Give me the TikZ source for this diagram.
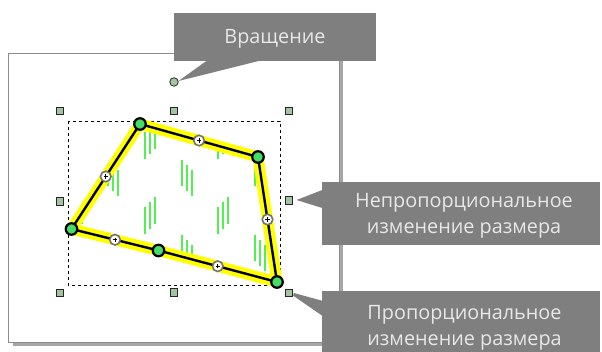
\documentclass[tikz,border=0pt]{standalone}
\usepackage{fontspec}
\setmainfont{Open Sans}
\usetikzlibrary{calc}
\definecolor{boxgray}{HTML}{7F7F7F}
\definecolor{txtgray}{HTML}{E8E8E8}
\definecolor{frameline}{HTML}{8C8C8C}
\definecolor{shadowgray}{HTML}{A6A6A6}
\definecolor{handlefill}{HTML}{A3C4A3}
\definecolor{vertfill}{HTML}{44DD66}
\definecolor{hatchgreen}{HTML}{55EE55}
\definecolor{hlyellow}{HTML}{FFFF00}
\begin{document}
\begin{tikzpicture}[x=1pt,y=-1pt,
  handlebox/.style={draw=black!85, fill=handlefill, line width=0.8pt, minimum size=7.5pt, inner sep=0pt, rectangle},
  rotdot/.style={draw=black!85, fill=handlefill, line width=0.8pt, minimum size=8.5pt, inner sep=0pt, circle},
  vertmark/.style={draw=black, fill=vertfill, line width=2.2pt, minimum size=11.5pt, inner sep=0pt, circle},
  midmark/.style={draw=black!55, fill=white, line width=1.6pt, minimum size=10.5pt, inner sep=0pt, circle,
     path picture={\draw[black, line width=0.8pt] (path picture bounding box.center) +(-2.2,0) -- +(2.2,0) +(0,-2.2) -- +(0,2.2);}},
  calloutbox/.style={fill=boxgray, inner sep=0pt, rectangle},
  pointer/.style={fill=boxgray},
  callouttext/.style={anchor=base, text=txtgray, inner sep=0pt, font=\fontsize{19.8}{24}\selectfont},
  hatchline/.style={draw=hatchgreen, line width=1.1pt},
  selbox/.style={draw=black, line width=0.8pt, dash pattern=on 3pt off 3pt},
]
\useasboundingbox (0,0) rectangle (602,352);
\fill[white] (0,0) rectangle (602,352);

% frame with shadow
\fill[shadowgray] (12.5,57) rectangle (343,346.5);
\filldraw[fill=white, draw=frameline, line width=1pt] (8.5,53.5) rectangle (339.5,342.5);

% selection handles
\node[handlebox] (htl) at (60,111) {};
\node[handlebox] (htm) at (174,111) {};
\node[handlebox] (htr) at (289,111) {};
\node[handlebox] (hml) at (60,201.5) {};
\node[handlebox] (hmr) at (289,200.5) {};
\node[handlebox] (hbl) at (60,293) {};
\node[handlebox] (hbm) at (174,292.5) {};
\node[handlebox] (hbr) at (289,293) {};
\node[rotdot] (rot) at (174,82) {};

% dashed bounding box
\draw[selbox] (68,121) rectangle (280,285);

% polygon
\coordinate (A) at (140,124);
\coordinate (B) at (258,157);
\coordinate (C) at (277,282);
\coordinate (M) at (158.5,250.5);
\coordinate (D) at (71.5,229);

\begin{scope}
\clip (A) -- (B) -- (C) -- (M) -- (D) -- cycle;
\foreach \x in {108,182,255} \foreach \y in {85,160,235} {
  \draw[hatchline] (\x,\y) -- ++(0,26) (\x+5,\y+5) -- ++(0,26) (\x+10,\y+10) -- ++(0,26);
}
\foreach \x in {72,145,218} \foreach \y in {131.7,206.7,281.7} {
  \draw[hatchline] (\x,\y) -- ++(0,27) (\x+5,\y-5) -- ++(0,27) (\x+10,\y-10) -- ++(0,27);
}
\end{scope}

\draw[hlyellow, line width=11pt, line join=round] (A) -- (B) -- (C) -- (M) -- (D) -- cycle;
\draw[black, line width=2.4pt, line join=round] (A) -- (B) -- (C) -- (M) -- (D) -- cycle;

\node[midmark] (mAB) at ($(A)!0.5!(B)$) {};
\node[midmark] (mBC) at ($(B)!0.5!(C)$) {};
\node[midmark] (mCM) at ($(C)!0.5!(M)$) {};
\node[midmark] (mMD) at ($(M)!0.5!(D)$) {};
\node[midmark] (mDA) at ($(D)!0.5!(A)$) {};

\node[vertmark] (vA) at (A) {};
\node[vertmark] (vB) at (B) {};
\node[vertmark] (vC) at (C) {};
\node[vertmark] (vM) at (M) {};
\node[vertmark] (vD) at (D) {};

% callouts
\node[calloutbox, minimum width=202pt, minimum height=48pt] (c1) at (275,37) {};
\node[calloutbox, minimum width=278pt, minimum height=63pt] (c2) at (461,213.5) {};
\node[calloutbox, minimum width=278pt, minimum height=66pt] (c3) at (461,324) {};

\fill[pointer] ($(c1.south west)+(33,-0.5)$) -- ($(rot.center)+(4.5,-1)$) -- ($(c1.south west)+(86,-0.5)$) -- cycle;
\fill[pointer] ($(c2.west)+(0.5,-23.5)$) -- ($(hmr.center)+(7.5,-0.5)$) -- ($(c2.west)+(0.5,-5.5)$) -- cycle;
\fill[pointer] ($(c3.north west)+(0.5,10)$) -- ($(hbr.center)+(5,0)$) -- ($(hbr.center)+(4,2.5)$) -- ($(c3.north west)+(0.5,25)$) -- cycle;

\node[callouttext] (t1) at (275,43.3) {Вращение};
\node[callouttext] (t2a) at (464,208) {Непропорциональное};
\node[callouttext] (t2b) at (464,234) {изменение размера};
\node[callouttext] (t3a) at (464.5,319.3) {Пропорциональное};
\node[callouttext] (t3b) at (464.5,345) {изменение размера};
\end{tikzpicture}
\end{document}
